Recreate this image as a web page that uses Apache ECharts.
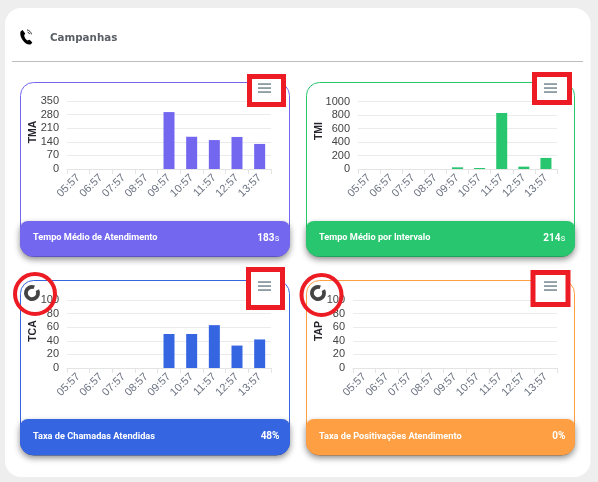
<!DOCTYPE html>
<html><head><meta charset="utf-8">
<style>html,body{margin:0;padding:0;background:#eee}#c{width:598px;height:482px}</style>
<script src="https://cdn.jsdelivr.net/npm/echarts@6/dist/echarts.min.js"></script>
</head><body><div id="c"></div>
<script>
const categories = ['05:57','06:57','07:57','08:57','09:57','10:57','11:57','12:57','13:57'];
const tmaValues = [0,0,0,0,293,166,149,165,129];
const tmiValues = [0,0,0,0,25,15,830,35,164];
const tcaValues = [0,0,0,0,50,50,63,33,42];
const tapValues = [0,0,0,0,0,0,0,0,0];
const axisNames = ['TMA','TMI','TCA','TAP'];
const axisMaxes = [350,1000,100,100];
const axisSteps = [70,200,20,20];
const footerTitles = ['Tempo Médio de Atendimento','Tempo Médio por Intervalo','Taxa de Chamadas Atendidas','Taxa de Positivações Atendimento'];
const footerValues = ['183','214','48%','0%'];
const footerUnits = ['s','s','',''];
const colors = ['#7367F0','#28C76F','#3565E0','#FF9F43'];
const allValues = [tmaValues,tmiValues,tcaValues,tapValues];

const cards = [
 {x:20.5,y:82.5,w:269,h:174,fy:221,fh:35.5,gx:67,gy:101,gw:204,gh:68,nx:33,ny:132,menu:[258,84],box:[249.5,76.5,34,28]},
 {x:306.5,y:82.5,w:268,h:174,fy:221,fh:35.5,gx:358,gy:101.5,gw:199,gh:67.5,nx:319,ny:131,menu:[544,84],box:[534.5,74.5,35,28]},
 {x:20.5,y:280.5,w:269,h:174.5,fy:419,fh:36,gx:67,gy:300,gw:204,gh:68,nx:33,ny:331,menu:[258,282],box:[248.5,269.5,34,38]},
 {x:306.5,y:280.5,w:268,h:174.5,fy:419,fh:36,gx:353,gy:300,gw:204,gh:68,nx:319,ny:331,menu:[544,282],box:[533,272.5,35,32]}
];
const spinners = [null,null,{x:32,y:293,cx:35,cy:294},{x:318,y:293,cx:321.5,cy:295}];
const phoneSvg = "<svg xmlns='http://www.w3.org/2000/svg' width='18' height='18' viewBox='0 0 18 18'><path d='M4 1 L7 5 L5.8 7.2 C6.2 9.6 7.6 11.6 9.4 12.8 L12 12 L15 15.2 L13.4 17.2 C10.6 18.4 7 16.6 4 12.4 C1.5 8.6 0.8 4.6 2 2.4 Z' fill='#000'/><path d='M9 1 C11.5 1.4 13.6 3.4 14 6 M9.6 3.4 C10.8 3.8 11.6 4.6 11.9 5.8' fill='none' stroke='#000' stroke-width='0.9'/></svg>";

const g = [];
g.push({type:'rect',z:0,shape:{x:5,y:8,width:585.5,height:469,r:16},style:{fill:'#fff'}});
g.push({type:'rect',z:0,shape:{x:12,y:61,width:571,height:1},style:{fill:'#bdbdbd'}});
g.push({type:'image',z:1,style:{image:'data:image/svg+xml,'+encodeURIComponent(phoneSvg),x:19,y:29,width:16,height:16}});
g.push({type:'text',z:1,x:50,y:38,style:{text:'Campanhas',fill:'#5a5f66',font:'bold 10.3px "DejaVu Sans"',verticalAlign:'middle'}});

cards.forEach((c,i)=>{
  const dy=i<2?17:17.5;
  g.push({type:'rect',z:0,shape:{x:c.x,y:c.y,width:c.w,height:c.h,r:13},style:{fill:'#fff',stroke:colors[i],lineWidth:1}});
  g.push({type:'rect',z:1,shape:{x:c.x-0.5,y:c.fy,width:c.w+1,height:c.fh,r:[8,8,13,13]},style:{fill:colors[i],shadowColor:'rgba(0,0,0,0.45)',shadowBlur:6,shadowOffsetY:3}});
  g.push({type:'text',z:3,x:c.x+12.5,y:c.fy+dy,style:{text:footerTitles[i],fill:'#fff',font:'bold 9.2px Roboto',verticalAlign:'middle'}});
  const unit=footerUnits[i];
  g.push({type:'text',z:3,x:c.x+268.5-9.5-(unit?5:0),y:c.fy+dy,style:{text:footerValues[i],fill:'#fff',font:'bold 10px Roboto',align:'right',verticalAlign:'middle'}});
  if(unit) g.push({type:'text',z:3,x:c.x+268.5-9.5,y:c.fy+dy+0.5,style:{text:unit,fill:'#fff',font:'9px Roboto',align:'right',verticalAlign:'middle'}});
  g.push({type:'text',z:3,x:c.nx,y:c.ny,rotation:Math.PI/2,style:{text:axisNames[i],fill:'#26262e',font:'bold 10.5px "Liberation Sans"',align:'center',verticalAlign:'middle'}});
  g.push({type:'rect',z:5,shape:{x:c.box[0],y:c.box[1],width:c.box[2],height:c.box[3]},style:{fill:'#fff',stroke:'#ED1C24',lineWidth:5}});
  [0,4,8].forEach(d=>g.push({type:'rect',z:6,shape:{x:c.menu[0],y:c.menu[1]+d-0.7,width:13,height:1.5},style:{fill:'#74858f'}}));
  const s=spinners[i];
  if(s){
    g.push({type:'sector',z:7,shape:{cx:s.x,cy:s.y,r:8,r0:4.2,startAngle:-Math.PI*0.16,endAngle:-Math.PI*0.38,clockwise:true},style:{fill:'#444'}});
    g.push({type:'circle',z:7,shape:{cx:s.cx,cy:s.cy,r:20},style:{fill:'none',stroke:'#ED1C24',lineWidth:4}});
  }
});

const option = {
  animation:false,
  backgroundColor:'#eeeeee',
  graphic:{elements:g},
  grid:cards.map(c=>({left:c.gx,top:c.gy,width:c.gw,height:c.gh})),
  xAxis:cards.map((c,i)=>({type:'category',gridIndex:i,data:categories,boundaryGap:true,
    axisLine:{show:true,lineStyle:{color:'#e4e4e4',width:1}},
    axisTick:{show:true,alignWithLabel:false,length:5,lineStyle:{color:'#e4e4e4'}},
    splitLine:{show:false},
    axisLabel:{interval:0,rotate:45,margin:7,color:'#6b7280',fontSize:11,fontFamily:'"Liberation Sans Narrow","Liberation Sans"'}})),
  yAxis:cards.map((c,i)=>({type:'value',gridIndex:i,min:0,max:axisMaxes[i],interval:axisSteps[i],
    axisLine:{show:false},axisTick:{show:false},
    splitLine:{lineStyle:{color:'#ebebeb',width:1}},
    axisLabel:{margin:8,color:'#444',fontSize:11,fontFamily:'"Liberation Sans Narrow","Liberation Sans"',padding:[0,0,6,0],formatter:v=>String(v)}})),
  series:allValues.map((v,i)=>({type:'bar',xAxisIndex:i,yAxisIndex:i,data:v,barWidth:11,itemStyle:{color:colors[i]},z:2}))
};
echarts.init(document.getElementById('c'),null,{renderer:'canvas'}).setOption(option);
</script></body></html>
